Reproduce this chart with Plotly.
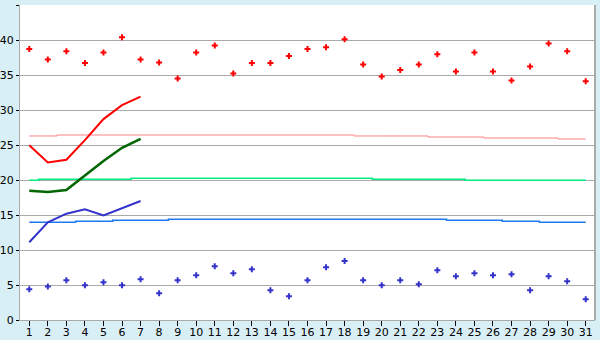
import plotly.graph_objects as go

days = list(range(1, 32))
tick_labels = [str(d) for d in days]

max_points = [38.7, 37.2, 38.4, 36.7, 38.2, 40.4, 37.2, 36.8, 34.5, 38.2,
              39.2, 35.2, 36.7, 36.7, 37.7, 38.7, 38.95, 40.1, 36.5, 34.8,
              35.7, 36.5, 37.95, 35.5, 38.2, 35.5, 34.2, 36.2, 39.5, 38.4, 34.1]
min_points = [4.38, 4.8, 5.67, 4.95, 5.38, 4.95, 5.81, 3.81, 5.67, 6.38,
              7.67, 6.67, 7.24, 4.24, 3.38, 5.67, 7.52, 8.43, 5.67, 4.95,
              5.67, 5.1, 7.1, 6.24, 6.67, 6.38, 6.52, 4.24, 6.24, 5.52, 2.95]

line_days = [1, 2, 3, 4, 5, 6, 7]
red_line = [24.95, 22.5, 22.9, 25.7, 28.7, 30.7, 31.9]
green_line = [18.48, 18.3, 18.57, 20.7, 22.7, 24.6, 25.86]
blue_line = [11.1, 13.95, 15.19, 15.81, 14.95, 15.95, 17.0]

normal_max = [26.29, 26.29] + [26.43] * 16 + [26.29] * 4 + [26.14] * 3 + [26.0] * 4 + [25.86] * 2
normal_mean = [19.95] + [20.1] * 5 + [20.24] * 13 + [20.1] * 5 + [19.95] * 7
normal_min = [13.95] * 3 + [14.1] * 2 + [14.24] * 3 + [14.38] * 15 + [14.24] * 3 + [14.1] * 2 + [13.95] * 3

fig = go.Figure()

fig.add_trace(go.Scatter(x=days, y=normal_max, mode="lines", line=dict(color="#ff8080", width=1, shape="hvh")))
fig.add_trace(go.Scatter(x=days, y=normal_mean, mode="lines", line=dict(color="#00ee80", width=1.5, shape="hvh")))
fig.add_trace(go.Scatter(x=days, y=normal_min, mode="lines", line=dict(color="#1e78f0", width=1.5, shape="hvh")))

fig.add_trace(go.Scatter(x=line_days, y=red_line, mode="lines", line=dict(color="#ff0000", width=2)))
fig.add_trace(go.Scatter(x=line_days, y=green_line, mode="lines", line=dict(color="#006600", width=2.5)))
fig.add_trace(go.Scatter(x=line_days, y=blue_line, mode="lines", line=dict(color="#3333cc", width=2)))

fig.add_trace(go.Scatter(x=days, y=max_points, mode="markers",
                         marker=dict(symbol="cross", size=5, color="#ff0000", line=dict(width=0))))
fig.add_trace(go.Scatter(x=days, y=min_points, mode="markers",
                         marker=dict(symbol="cross", size=5, color="#3333cc", line=dict(width=0))))

fig.update_layout(
    width=600, height=340,
    margin=dict(l=20, r=5, t=5, b=20),
    paper_bgcolor="#d9eff6",
    plot_bgcolor="#ffffff",
    showlegend=False,
    font=dict(family="DejaVu Sans", size=11, color="#000000"),
)
fig.update_xaxes(
    range=[0.5, 31.5], tickmode="array", tickvals=days, ticktext=tick_labels,
    showgrid=False, zeroline=False, automargin=False,
    showline=True, linecolor="#aaaaaa", linewidth=1, mirror=False,
    ticks="outside", ticklen=5, tickcolor="#000000", tickwidth=1,
    ticklabelstandoff=-3,
    tickfont=dict(size=11),
)
fig.update_yaxes(
    range=[0, 45], dtick=5, tick0=0, automargin=False,
    showgrid=True, gridcolor="#aaaaaa", gridwidth=1, zeroline=False,
    showline=True, linecolor="#aaaaaa", linewidth=1,
    ticks="outside", ticklen=3, tickcolor="#000000", tickwidth=1,
    tickfont=dict(size=11),
)
# right border of plot area
fig.add_shape(type="line", xref="paper", yref="paper", x0=1, x1=1, y0=0, y1=1,
              line=dict(color="#aaaaaa", width=2))

fig.write_html("out.html")
